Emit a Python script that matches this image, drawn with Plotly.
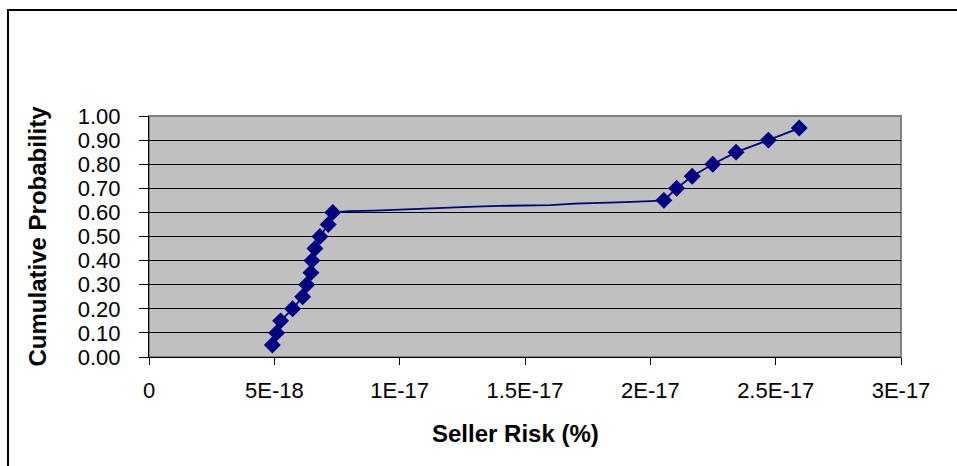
import plotly.graph_objects as go

# Quantile points (with markers)
risk_marked = [4.92e-18, 5.09e-18, 5.25e-18, 5.73e-18, 6.13e-18, 6.29e-18, 6.46e-18,
               6.50e-18, 6.62e-18, 6.82e-18, 7.15e-18, 7.33e-18,
               2.054e-17, 2.105e-17, 2.167e-17, 2.249e-17, 2.342e-17, 2.471e-17, 2.594e-17]
prob_marked = [0.05, 0.10, 0.15, 0.20, 0.25, 0.30, 0.35, 0.40, 0.45, 0.50, 0.55, 0.60,
               0.65, 0.70, 0.75, 0.80, 0.85, 0.90, 0.95]

# Intermediate points on the flat section (line only)
risk_mid = [8.0e-18, 9.0e-18, 1.0e-17, 1.1e-17, 1.2e-17, 1.3e-17, 1.4e-17,
            1.5e-17, 1.6e-17, 1.7e-17, 1.8e-17, 1.9e-17, 2.0e-17]
prob_mid = [0.605, 0.607, 0.612, 0.614, 0.620, 0.624, 0.627,
            0.629, 0.630, 0.636, 0.638, 0.643, 0.647]

x_ticks = [0, 5e-18, 1e-17, 1.5e-17, 2e-17, 2.5e-17, 3e-17]
x_tick_labels = ["0", "5E-18", "1E-17", "1.5E-17", "2E-17", "2.5E-17", "3E-17"]
y_ticks = [0.0, 0.1, 0.2, 0.3, 0.4, 0.5, 0.6, 0.7, 0.8, 0.9, 1.0]
y_tick_labels = [f"{v:.2f}" for v in y_ticks]

# Build full line: marked low part, mid part, marked high part
line_x = risk_marked[:12] + risk_mid + risk_marked[12:]
line_y = prob_marked[:12] + prob_mid + prob_marked[12:]

NAVY = "#000080"
FONT = "Liberation Sans, Arial, sans-serif"

L, T = 149, 116
PW, PH = 752, 241

fig = go.Figure()
fig.add_trace(go.Scatter(x=line_x, y=line_y, mode="lines",
                         line=dict(color=NAVY, width=1.8), hoverinfo="skip",
                         showlegend=False))
fig.add_trace(go.Scatter(x=risk_marked, y=prob_marked, mode="markers",
                         marker=dict(symbol="diamond", size=13, color=NAVY),
                         showlegend=False))

fig.update_layout(
    width=957, height=466,
    margin=dict(l=L, r=957 - L - PW, t=T, b=466 - T - PH),
    paper_bgcolor="white",
    plot_bgcolor="#C0C0C0",
    font=dict(family=FONT, size=22, color="black"),
    xaxis=dict(range=[0, 3e-17], tickvals=x_ticks, ticktext=x_tick_labels,
               showgrid=False, zeroline=False, showline=True, linecolor="black",
               linewidth=1, ticks="outside", ticklen=7, tickcolor="black",
               ticklabelstandoff=7, tickfont=dict(size=22)),
    yaxis=dict(range=[0, 1.0], tickvals=y_ticks, ticktext=y_tick_labels,
               showgrid=True, gridcolor="black", gridwidth=1, zeroline=False,
               showline=True, linecolor="black", linewidth=1,
               ticks="outside", ticklen=9, tickcolor="black",
               ticklabelstandoff=14, tickfont=dict(size=22)),
    shapes=[
        dict(type="rect", xref="paper", yref="paper", x0=0, x1=1, y0=0, y1=1,
             line=dict(color="#808080", width=2), layer="below"),
        dict(type="rect", xref="paper", yref="paper", x0=(8 - L) / PW, x1=1.2,
             y0=-0.6, y1=1 + (T - 10) / PH, line=dict(color="black", width=2)),
    ],
    annotations=[
        dict(text="<b>Cumulative Probability</b>", xref="paper", yref="paper",
             x=(37 - L) / PW, y=0.5, textangle=-90, showarrow=False,
             xanchor="center", yanchor="middle", font=dict(size=24)),
        dict(text="<b>Seller Risk (%)</b>", xref="paper", yref="paper",
             x=(515 - L) / PW, y=-(433 - 357) / PH, showarrow=False,
             xanchor="center", yanchor="middle", font=dict(size=24)),
    ],
)

fig.write_html("out.html",
               config={"displayModeBar": False},
               post_script="document.body.style.margin='0';")
